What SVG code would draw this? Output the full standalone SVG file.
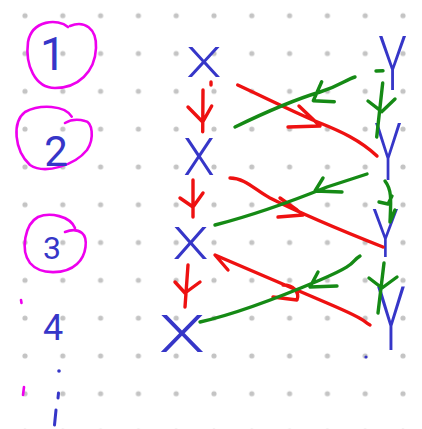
<svg xmlns="http://www.w3.org/2000/svg" width="422" height="429" viewBox="0 0 422 429">
<style>
.bg{fill:#ffffff}
.lbl{font-family:Roboto,"Liberation Sans",Arial,sans-serif;font-weight:400;fill:#3636c8;text-anchor:middle}
.xy{font-size:44px;font-weight:300}
.r{fill:none;stroke:#ee1111;stroke-width:3.4;stroke-linecap:round;stroke-linejoin:round}
.g{fill:none;stroke:#158a15;stroke-width:3.4;stroke-linecap:round;stroke-linejoin:round}
.m{fill:none;stroke:#ee00ee;stroke-width:2.6;stroke-linecap:round;stroke-linejoin:round}
.b{fill:none;stroke:#3636c8;stroke-width:3;stroke-linecap:round}
</style>
<defs>
<pattern id="dots" patternUnits="userSpaceOnUse" x="6.1" y="-3.2" width="37.8" height="37.8">
<circle cx="18.9" cy="18.9" r="2.6" fill="#c4c4c4"/>
</pattern>
</defs>
<rect class="bg" width="422" height="429"/>
<rect width="422" height="429" fill="url(#dots)"/>

<g id="n1">
<path class="m" d="M68,27 C58,18 32,20 28,42 C25,65 35,88 55,88 C78,88 95,72 96,48 C97,28 84,20 70,26"/>
<text class="lbl" x="53" y="70" font-size="46">1</text>
</g>
<g id="n2">
<path class="m" d="M71.7,116.7 C65,105 40,104 25,112 C12,122 14,150 30,165 C45,175 75,165 87,150 C95,138 92,122 85,121 C78,119 70,120 65,123"/>
<text class="lbl" x="56" y="166" font-size="42">2</text>
</g>
<g id="n3">
<path class="m" d="M75,228 C70,216 50,212 38,217 C25,224 20,250 30,263 C40,275 65,275 77,264 C87,255 88,238 82,233 C77,229 70,230 65,232"/>
<text class="lbl" x="52" y="259" font-size="32">3</text>
</g>
<g id="n4">
<text class="lbl" x="53" y="340" font-size="36">4</text>
</g>
<g id="ellipsis">
<circle cx="59" cy="371" r="1.8" fill="#3636c8"/>
<path class="b" d="M58.5,393 L58,398"/>
<path class="b" d="M56,410 L54.5,425"/>
<path class="m" d="M21,300 L21.5,303"/>
<path class="m" d="M24,387 L23,395"/>
</g>

<g id="x1"><text class="lbl xy" transform="translate(204,77) scale(1.31,0.95)">X</text></g>
<g id="x2"><text class="lbl xy" transform="translate(199,175) scale(1.17,1.17)">X</text></g>
<g id="x3"><text class="lbl xy" transform="translate(190.5,259) scale(1.34,1.02)">X</text></g>
<g id="x4"><text class="lbl xy" transform="translate(182,352) scale(1.72,1.17)">X</text></g>
<g id="y1"><text class="lbl xy" transform="translate(392.5,90) scale(1.07,1.71)">Y</text></g>
<g id="y2"><text class="lbl xy" transform="translate(388,180) scale(1.03,1.81)">Y</text></g>
<g id="y3"><text class="lbl xy" transform="translate(385.5,257) scale(1.0,1.52)">Y</text></g>
<g id="y4"><text class="lbl xy" transform="translate(391,350) scale(1.1,2.03)">Y</text></g>
<circle cx="366" cy="357" r="1.6" fill="#3636c8"/>

<g id="connectors">
<path class="r" d="M203,90 L202.7,131.7 M188,107 L202.7,122 L211.7,106 M211,82 L211,85"/>
<path class="r" d="M237.7,85 C270,100 300,115 320,123 S360,140 377,156 M299,106 L320,126 L288,127"/>
<path class="g" d="M235,127 C270,110 300,98 320,92 S345,80 355,77 M321.7,81.7 L313.3,100.7 L334.3,101.7"/>
<path class="g" d="M382.7,83 L376.7,137 M368,101 L381.7,111.7 L395,99 M376,71 L383,70.7"/>

<path class="r" d="M193,180 L193,217 M180,198 L193,207 L203,193"/>
<path class="r" d="M230,178 C245,178 255,190 270,198 C300,213 340,230 383,247 M280,198 L297,210 L303,215 L278,217"/>
<path class="g" d="M215,225 C250,216 290,202 327,187 L367,174 M323,178 L315,191 L342,192"/>
<path class="g" d="M385,181 C392,190 391,200 390,222 M379,202 L388,204 L392,196 M390,222 L395,210"/>

<path class="r" d="M188,265 L185,307 M175,282 L185,293 L200,282"/>
<path class="r" d="M228,270 L215,255 C240,266 280,283 327,303 S360,320 370,325 M283,285 C293,285 300,292 297,300 L273,297"/>
<path class="g" d="M200,322 C240,313 280,297 320,280 S350,262 360,256 M318,272 L310,287 L337,286"/>
<path class="g" d="M384,263 L378,313 M369,278 L382,288 L397,277"/>
</g>
</svg>
